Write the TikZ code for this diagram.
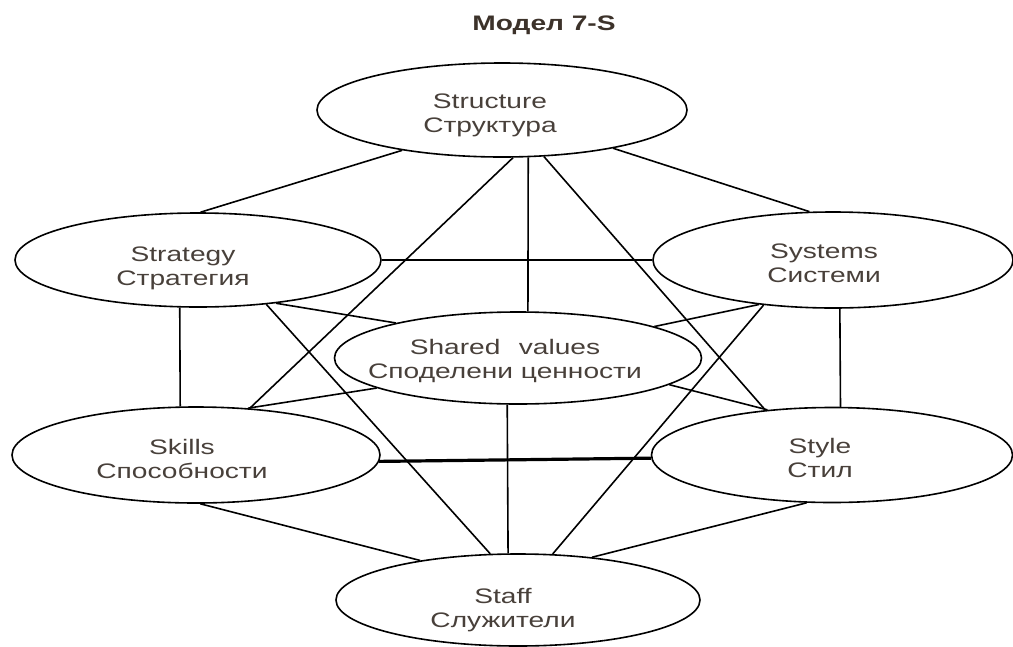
\documentclass[tikz,border=0pt]{standalone}
\usepackage{fontspec}
\setmainfont{Liberation Sans}[FakeStretch=1.34]
\usetikzlibrary{shapes.geometric}
\definecolor{txt}{RGB}{72,64,58}
\definecolor{titlec}{RGB}{60,50,42}
\begin{document}
\begin{tikzpicture}[x=1pt,y=-1pt,
  ell/.style={ellipse, draw, line width=1.6pt, inner sep=0pt},
  lbl/.style={align=center, anchor=base, text=txt, font=\fontsize{21}{23.5}\selectfont},
  con/.style={line width=1.6pt},
  thickcon/.style={line width=3.2pt}]
\useasboundingbox (0,0) rectangle (1013,646);

\node[anchor=base, text=titlec, font=\bfseries\fontsize{21}{21}\selectfont] (title) at (544,30) {Модел 7-S};

\node[ell, minimum width=370pt, minimum height=94pt] (structure) at (502,110) {};
\node[ell, minimum width=366pt, minimum height=94pt] (strategy) at (198,260) {};
\node[ell, minimum width=360pt, minimum height=96pt] (systems) at (833,260) {};
\node[ell, minimum width=367pt, minimum height=92pt] (shared) at (518,358) {};
\node[ell, minimum width=368pt, minimum height=96pt] (skills) at (196,455) {};
\node[ell, minimum width=361pt, minimum height=95pt] (style) at (832,455) {};
\node[ell, minimum width=364pt, minimum height=92pt] (staff) at (518,600) {};

\node[lbl] (structure-t) at (490,132) {Structure\\Структура};
\node[lbl] (strategy-t) at (183,285) {Strategy\\Стратегия};
\node[lbl] (systems-t) at (824,282) {Systems\\Системи};
\node[lbl] (shared-t) at (505,378) {Shared\hspace{0.5em} values\\Споделени ценности};
\node[lbl] (skills-t) at (182,478) {Skills\\Способности};
\node[lbl] (style-t) at (820,477) {Style\\Стил};
\node[lbl] (staff-t) at (503,627) {Staff\\Служители};

\draw[con] (structure.202) -- (strategy.87.5);
\draw[con] (structure.341) -- (systems.116);
\draw[con] (structure.299) -- (shared.78);
\draw[con] (structure.283) -- (skills.41);
\draw[con] (structure.312) -- (style.146);
\draw[con] (strategy.east) -- (systems.west);
\draw[con] (strategy.249) -- (skills.108.4);
\draw[con] (strategy.331) -- (shared.164.5);
\draw[con] (strategy.327.9) -- (staff.121);
\draw[con] (systems.211.6) -- (shared.13.5);
\draw[con] (systems.213.3) -- (staff.53.3);
\draw[con] (systems.278.3) -- (style.80.5);
\draw[con] (shared.192.6) -- (skills.42.7);
\draw[con] (shared.350.8) -- (style.145.7);
\draw[con] (shared.257.7) -- (staff.102.3);
\draw[thickcon] (skills.358.4) -- (style.181.6);
\draw[con] (skills.275) -- (staff.158.8);
\draw[con] (style.242) -- (staff.30.8);
\end{tikzpicture}
\end{document}
